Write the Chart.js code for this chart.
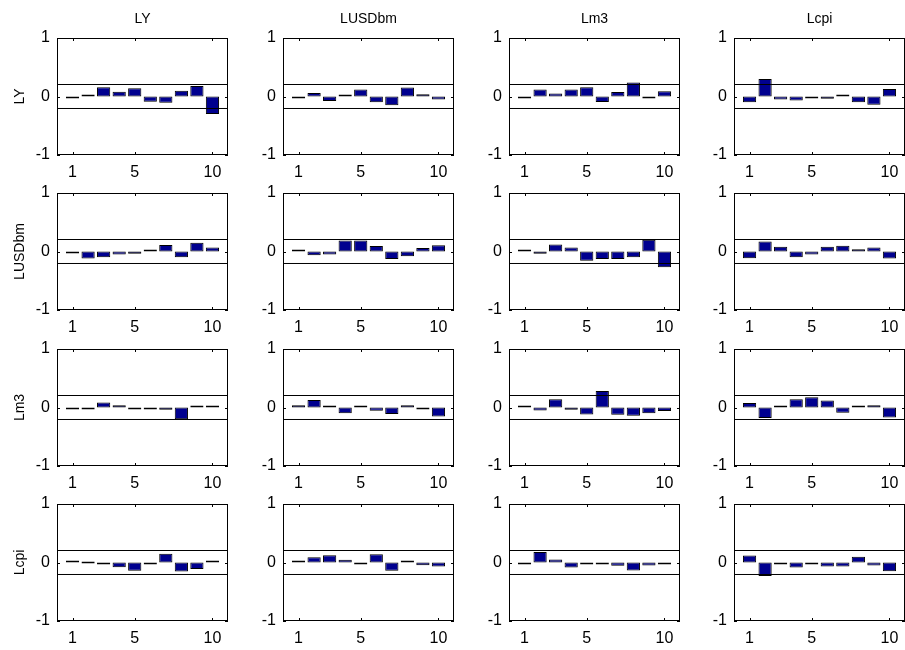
<!DOCTYPE html>
<html>
<head>
<meta charset="utf-8">
<script src="https://cdn.jsdelivr.net/npm/chart.js@4.4.1/dist/chart.umd.min.js"></script>
<style>
  html, body { margin: 0; padding: 0; background: #fff; overflow: hidden; }
  #wrap { position: relative; width: 905px; height: 650px; overflow: hidden; }
  #wrap canvas { position: absolute; }
</style>
</head>
<body>
<div id="wrap"></div>
<script>
// variable names (rows and columns)
var varNames = ['LY', 'LUSDbm', 'Lm3', 'Lcpi'];
var lags = [1, 2, 3, 4, 5, 6, 7, 8, 9, 10];
var xTicks = [1, 5, 10];
var yTicks = [-1, 0, 1];
var bound = 0.205;

// cross correlations, row variable _ column variable
var LY_LY         = [-0.035, 0.03, 0.16, 0.08, 0.14, -0.09, -0.105, 0.10, 0.18, -0.30];
var LY_LUSDbm     = [-0.02, 0.06, -0.075, 0.035, 0.12, -0.10, -0.15, 0.155, 0.04, -0.05];
var LY_Lm3        = [-0.01, 0.12, 0.05, 0.12, 0.16, -0.095, 0.075, 0.24, -0.02, 0.09];
var LY_Lcpi       = [-0.10, 0.30, -0.05, -0.07, -0.03, -0.04, 0.035, -0.10, -0.14, 0.13];

var LUSDbm_LY     = [-0.01, -0.12, -0.10, -0.05, -0.04, 0.01, 0.11, -0.10, 0.15, 0.07];
var LUSDbm_LUSDbm = [0.01, -0.065, -0.05, 0.19, 0.19, 0.095, -0.13, -0.08, 0.06, 0.105];
var LUSDbm_Lm3    = [0.02, -0.04, 0.12, 0.07, -0.16, -0.13, -0.13, -0.10, 0.20, -0.27];
var LUSDbm_Lcpi   = [-0.115, 0.17, 0.08, -0.10, -0.05, 0.08, 0.10, 0.04, 0.07, -0.12];

var Lm3_LY        = [-0.01, -0.03, 0.085, 0.04, -0.03, -0.01, -0.04, -0.20, 0.01, 0.03];
var Lm3_LUSDbm    = [0.04, 0.13, 0.035, -0.10, 0.015, -0.055, -0.11, 0.04, -0.005, -0.155];
var Lm3_Lm3       = [0.01, -0.05, 0.14, -0.04, -0.12, 0.28, -0.125, -0.14, -0.10, -0.06];
var Lm3_Lcpi      = [0.075, -0.18, 0.005, 0.14, 0.175, 0.12, -0.09, 0.03, 0.04, -0.17];

var Lcpi_LY       = [0.01, 0.0, -0.01, -0.08, -0.14, -0.01, 0.15, -0.155, -0.11, 0.035];
var Lcpi_LUSDbm   = [0.01, 0.09, 0.125, 0.045, -0.025, 0.14, -0.14, 0.035, -0.045, -0.07];
var Lcpi_Lm3      = [-0.01, 0.18, 0.05, -0.085, -0.035, -0.005, -0.055, -0.135, -0.05, -0.01];
var Lcpi_Lcpi     = [0.12, -0.23, -0.03, -0.085, -0.035, -0.07, -0.07, 0.10, -0.05, -0.15];

var grid = [
  [LY_LY, LY_LUSDbm, LY_Lm3, LY_Lcpi],
  [LUSDbm_LY, LUSDbm_LUSDbm, LUSDbm_Lm3, LUSDbm_Lcpi],
  [Lm3_LY, Lm3_LUSDbm, Lm3_Lm3, Lm3_Lcpi],
  [Lcpi_LY, Lcpi_LUSDbm, Lcpi_Lm3, Lcpi_Lcpi]
];

// panel layout (plot box positions in the page)
var boxLeft = [57, 283, 509, 734];
var boxTop = [38, 193, 349, 504];
var boxW = 171, boxH = 117;
var yAxisW = 57, titleH = 32, xAxisH = 30, padRight = 2;

// box around the plot plus inward tick marks
var boxPlugin = {
  id: 'matlabBox',
  afterDraw: function (chart) {
    var ctx = chart.ctx, a = chart.chartArea;
    var xs = chart.scales.x, ys = chart.scales.y;
    ctx.save();
    ctx.strokeStyle = '#000';
    ctx.lineWidth = 1;
    ctx.strokeRect(Math.round(a.left) + 0.5, Math.round(a.top) + 0.5,
      Math.round(a.width) - 1, Math.round(a.height) - 1);
    ctx.beginPath();
    xTicks.forEach(function (v) {
      var px = Math.round(xs.getPixelForValue(v)) + 0.5;
      ctx.moveTo(px, a.bottom); ctx.lineTo(px, a.bottom - 3);
      ctx.moveTo(px, a.top); ctx.lineTo(px, a.top + 3);
    });
    yTicks.forEach(function (v) {
      var py = Math.round(ys.getPixelForValue(v)) + 0.5;
      ctx.moveTo(a.left, py); ctx.lineTo(a.left + 3, py);
      ctx.moveTo(a.right, py); ctx.lineTo(a.right - 3, py);
    });
    ctx.stroke();
    ctx.restore();
  }
};

var wrap = document.getElementById('wrap');
var font = 'Liberation Sans, Arial, sans-serif';

for (var r = 0; r < 4; r++) {
  for (var c = 0; c < 4; c++) {
    var cv = document.createElement('canvas');
    var w = yAxisW + boxW + padRight, h = titleH + boxH + xAxisH;
    cv.width = w; cv.height = h;
    cv.style.width = w + 'px'; cv.style.height = h + 'px';
    cv.style.left = (boxLeft[c] - yAxisW) + 'px';
    cv.style.top = (boxTop[r] - titleH) + 'px';
    wrap.appendChild(cv);

    var vals = grid[r][c];
    new Chart(cv.getContext('2d'), {
      type: 'bar',
      data: {
        datasets: [{
          type: 'bar',
          data: lags.map(function (x, i) { return { x: x, y: vals[i] }; }),
          backgroundColor: '#00008f',
          borderColor: '#000',
          borderWidth: 1,
          borderSkipped: false,
          minBarLength: 2,
          barPercentage: 0.85,
          categoryPercentage: 1,
          order: 2
        }, {
          type: 'line',
          data: [{ x: 0, y: bound }, { x: 11, y: bound }],
          borderColor: '#000',
          borderWidth: 1,
          pointRadius: 0,
          order: 1
        }, {
          type: 'line',
          data: [{ x: 0, y: -bound }, { x: 11, y: -bound }],
          borderColor: '#000',
          borderWidth: 1,
          pointRadius: 0,
          order: 1
        }]
      },
      options: {
        responsive: false,
        animation: false,
        devicePixelRatio: 1,
        layout: { padding: { left: 0, right: padRight, top: 0, bottom: 0 } },
        plugins: {
          legend: { display: false },
          tooltip: { enabled: false },
          title: {
            display: true,
            fullSize: false,
            text: r === 0 ? varNames[c] : ' ',
            color: '#000',
            font: { family: font, size: 14, weight: 'normal', lineHeight: 1 },
            padding: { top: 6, bottom: 12 }
          }
        },
        scales: {
          x: {
            type: 'linear',
            min: 0, max: 11,
            offset: false,
            afterBuildTicks: function (s) { s.ticks = xTicks.map(function (v) { return { value: v }; }); },
            afterFit: function (s) { s.height = xAxisH; },
            grid: { display: false, drawTicks: false },
            border: { display: false },
            ticks: {
              color: '#000', padding: 8, autoSkip: false, maxRotation: 0,
              font: { family: font, size: 16 }
            }
          },
          y: {
            min: -1, max: 1,
            afterBuildTicks: function (s) { s.ticks = yTicks.map(function (v) { return { value: v }; }); },
            afterFit: function (s) { s.width = yAxisW; },
            grid: { display: false, drawTicks: false },
            border: { display: false },
            ticks: {
              color: '#000', padding: 7,
              font: { family: font, size: 16 }
            },
            title: {
              display: c === 0,
              text: varNames[r],
              color: '#000',
              padding: { top: 12, bottom: 0 },
              font: { family: font, size: 14, lineHeight: 1.2 }
            }
          }
        }
      },
      plugins: [boxPlugin]
    });
  }
}
</script>
</body>
</html>
